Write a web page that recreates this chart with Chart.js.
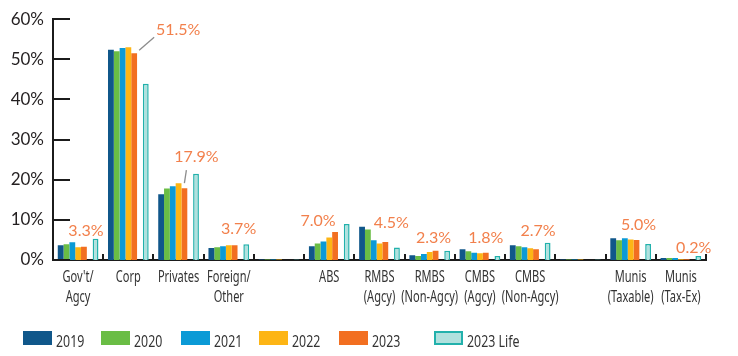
<!DOCTYPE html>
<html><head><meta charset="utf-8">
<script src="https://cdn.jsdelivr.net/npm/chart.js@4.4.1/dist/chart.umd.min.js"></script>
<style>
html,body{margin:0;padding:0;background:#fff;}
#wrap{position:relative;width:738px;height:356px;overflow:hidden;}
#legend{position:absolute;left:0;top:0;width:738px;height:356px;pointer-events:none;}
.item{position:absolute;top:330px;height:15px;display:flex;align-items:center;font:16.5px 'Noto Sans',sans-serif;color:#333;white-space:nowrap;}
.box{width:29px;height:14px;margin-right:4px;box-sizing:border-box;flex:none;}
.txt{display:inline-block;position:relative;top:3px;transform:scaleX(0.75);transform-origin:0 50%;}
</style></head>
<body><div id="wrap"><canvas id="c" width="738" height="356"></canvas><div id="legend"></div></div>
<script>
// ---- data ----
const categories = [["Gov't/","Agcy"],"Corp","Privates",["Foreign/","Other"],"","ABS",["RMBS","(Agcy)"],["RMBS","(Non-Agcy)"],["CMBS","(Agcy)"],["CMBS","(Non-Agcy)"],"",["Munis","(Taxable)"],["Munis","(Tax-Ex)"]];
const seriesNames = ["2019","2020","2021","2022","2023","2023 Life"];
const v2019 = [3.7,52.4,16.4,3.0,0.1,3.4,8.3,1.2,2.7,3.7,0.1,5.4,0.5];
const v2020 = [3.9,52.0,17.8,3.2,0.1,4.1,7.6,1.0,2.2,3.4,0.1,4.9,0.5];
const v2021 = [4.4,52.8,18.4,3.4,0.1,4.6,4.9,1.5,1.8,3.2,0.1,5.4,0.5];
const v2022 = [3.2,53.0,19.1,3.7,0.1,5.6,4.1,2.0,1.7,2.9,0.1,5.1,0.2];
const v2023 = [3.3,51.5,17.9,3.7,null,7.0,4.5,2.3,1.8,2.7,null,5.0,0.2];
const v2023Life = [5.3,43.9,21.5,3.9,0.1,9.0,3.1,2.3,1.0,4.3,0.1,4.0,1.0];
const yTicks = [0,10,20,30,40,50,60];

// ---- styles ----
const colors = ["#10578a","#6abd45","#0b9ad6","#fdb515","#f26f21"];
const lifeFill = "#b0e1de", lifeBorder = "#22b1ac";
const labelColor = "#f2804c";
// label offsets relative to the 2023 bar top (styling only)
const labelOffsets = [
  {dx:2,dy:-16},{dx:44,dy:-23,lead:[5,-3,20,-16]},{dx:12,dy:-31,lead:[2,-18,0,-5]},{dx:4,dy:-16},null,
  {dx:-17,dy:-11},{dx:6,dy:-19},{dx:-2,dy:-13},{dx:0,dy:-15},{dx:2,dy:-18},null,{dx:2,dy:-15},{dx:7,dy:-11}
];

const datasets = [v2019,v2020,v2021,v2022,v2023].map((d,i)=>({
  label: seriesNames[i], data: d, backgroundColor: colors[i], borderWidth: 0
}));
datasets.push({label:"", data: categories.map(()=>null), backgroundColor:"rgba(0,0,0,0)"});
datasets.push({label: seriesNames[5], data: v2023Life, backgroundColor: lifeFill, borderColor: lifeBorder, borderWidth: 1.5});

const axisPlugin = {
  id:'axisDeco',
  afterDraw(chart){
    const ctx = chart.ctx, x = chart.scales.x, y = chart.scales.y, ca = chart.chartArea;
    ctx.save();
    ctx.strokeStyle = "#1b1b1b"; ctx.lineWidth = 2;
    // inward y ticks
    yTicks.forEach(t=>{
      const py = Math.round(y.getPixelForValue(t));
      ctx.beginPath(); ctx.moveTo(ca.left, py); ctx.lineTo(ca.left+17, py); ctx.stroke();
    });
    // upward x ticks at category boundaries
    const n = categories.length, w = (x.right - x.left)/n;
    for(let i=1;i<=n;i++){
      const px = Math.round(x.left + i*w);
      ctx.beginPath(); ctx.moveTo(px, ca.bottom); ctx.lineTo(px, ca.bottom-6); ctx.stroke();
    }
    // category labels (condensed)
    ctx.fillStyle = "#333"; ctx.textAlign = "center"; ctx.textBaseline = "middle";
    ctx.font = "16px 'Noto Sans', sans-serif";
    categories.forEach((c,i)=>{
      const lines = Array.isArray(c) ? c : [c];
      const px = x.getPixelForValue(i);
      lines.forEach((ln,k)=>{
        ctx.save(); ctx.translate(px, ca.bottom + 17 + k*20); ctx.scale(0.69,1);
        ctx.fillText(ln, 0, 0); ctx.restore();
      });
    });
    // value labels for 2023
    const meta = chart.getDatasetMeta(4);
    ctx.font = "16px Lato, 'Open Sans', sans-serif";
    ctx.fillStyle = labelColor;
    v2023.forEach((v,i)=>{
      const o = labelOffsets[i]; if(v==null || !o) return;
      const bar = meta.data[i];
      ctx.fillText(v.toFixed(1)+"%", bar.x+o.dx, bar.y+o.dy);
      if(o.lead){
        ctx.strokeStyle = "#8c8c8c"; ctx.lineWidth = 1.3;
        ctx.beginPath(); ctx.moveTo(bar.x+o.lead[0], bar.y+o.lead[1]); ctx.lineTo(bar.x+o.lead[2], bar.y+o.lead[3]); ctx.stroke();
      }
    });
    ctx.restore();
  }
};

new Chart(document.getElementById('c'), {
  type:'bar',
  data:{labels: categories, datasets},
  options:{
    responsive:false, animation:false, devicePixelRatio:1,
    layout:{padding:{top:14,right:32,bottom:0,left:0}},
    datasets:{bar:{categoryPercentage:0.81, barPercentage:1}},
    plugins:{legend:{display:false}, tooltip:{enabled:false}},
    scales:{
      x:{
        grid:{display:false, drawTicks:false},
        border:{display:true, color:"#1b1b1b", width:2},
        ticks:{display:false},
        afterFit(s){ s.height = 96; }
      },
      y:{
        min:0, max:60,
        grid:{display:false, drawTicks:false},
        border:{display:true, color:"#1b1b1b", width:2},
        ticks:{stepSize:10, color:"#231f20", padding:9, font:{family:"Lato, 'Open Sans', sans-serif", size:17}, callback:v=>v+"%"},
        afterFit(s){ s.width = 53; }
      }
    }
  },
  plugins:[axisPlugin]
});

// legend
const legendLeft = [23,101,181,259,339,434];
const lg = document.getElementById('legend');
seriesNames.forEach((name,i)=>{
  const it = document.createElement('div'); it.className='item'; it.style.left = legendLeft[i]+'px';
  const b = document.createElement('div'); b.className='box';
  if(i<5){ b.style.background = colors[i]; } else { b.style.background = lifeFill; b.style.border = '2px solid '+lifeBorder; }
  const t = document.createElement('span'); t.className='txt'; t.textContent = name;
  it.appendChild(b); it.appendChild(t); lg.appendChild(it);
});
</script>
</body></html>
